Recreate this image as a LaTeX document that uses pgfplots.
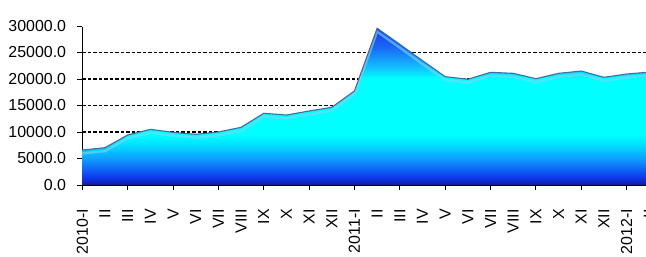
\documentclass[border=0pt]{standalone}
\usepackage{pgfplots}
\pgfplotsset{compat=1.18}
\usepackage{fontspec}
\setmainfont{Liberation Sans}
\definecolor{c0}{RGB}{22,28,120}
\definecolor{c1}{RGB}{15,38,200}
\definecolor{c2}{RGB}{15,65,240}
\definecolor{c3}{RGB}{15,160,255}
\definecolor{c4}{RGB}{0,225,255}
\definecolor{c5}{RGB}{0,255,255}
\definecolor{c6}{RGB}{20,185,255}
\definecolor{c7}{RGB}{25,105,245}
\definecolor{c8}{RGB}{25,55,235}
\definecolor{edgec}{RGB}{60,110,160}
\pgfdeclareverticalshading{areafill}{100bp}{color(0bp)=(c0); color(25bp)=(c0); color(26bp)=(c1); color(28bp)=(c2); color(33.5bp)=(c3); color(38bp)=(c4); color(41bp)=(c5); color(59bp)=(c5); color(63bp)=(c6); color(69bp)=(c7); color(75bp)=(c8); color(100bp)=(c8)}
\pgfplotstableread{
x y
0 6600
1 7040
2 9430
3 10500
4 9940
5 9560
6 10000
7 10880
8 13530
9 13200
10 13960
11 14660
12 17740
13 29570
14 26550
15 23460
16 20440
17 19950
18 21260
19 21070
20 20060
21 21070
22 21500
23 20320
24 20940
25 21300
}\datatable
\begin{document}
\begin{tikzpicture}
\begin{axis}[
  at={(0,0)}, anchor=south west,
  scale only axis,
  width=573.8bp, height=159bp,
  xmin=0, xmax=25.3, ymin=0, ymax=30000,
  axis lines=left,
  axis line style={-, black, line width=1bp},
  xtick={0,...,25},
  xticklabels={2010-I,II,III,IV,V,VI,VII,VIII,IX,X,XI,XII,2011-I,II,III,IV,V,VI,VII,VIII,IX,X,XI,XII,2012-I,II},
  xtick style={draw=none},
  extra x ticks={0,2,...,24},
  extra x tick labels={},
  extra x tick style={xtick style={draw=black, line width=1bp}},
  xticklabel style={rotate=90, anchor=east, inner sep=0pt, font=\fontsize{16}{16}\selectfont},
  xticklabel shift=19bp,
  ytick={0,5000,...,25000},
  extra y ticks={30000},
  extra y tick style={grid=major, major grid style={draw=gray!45, line width=0.5bp, dash pattern=on 3.5bp off 2bp, double=white, double distance=1.2bp}},
  ymajorgrids,
  major grid style={draw=black, line width=1.2bp, dash pattern=on 3.5bp off 2bp},
  ytick style={draw=black, line width=1bp},
  tick align=outside,
  major tick length=5bp,
  scaled y ticks=false,
  yticklabel style={inner sep=0pt, font=\fontsize{16}{16}\selectfont},
  yticklabel shift=11bp,
  /pgf/number format/.cd, fixed, fixed zerofill, precision=1, 1000 sep={}, assume math mode=true,
]
\addplot[draw=none, shading=areafill] table[x=x, y=y] {\datatable} \closedcycle;
\addplot[no marks, line width=2.4bp, color=white!50!cyan, opacity=0.6, yshift=-3.4bp] table[x=x, y=y] {\datatable};
\addplot[no marks, line width=1.1bp, color=edgec] table[x=x, y=y] {\datatable};
\end{axis}
\pgfresetboundingbox
\useasboundingbox (-82.3bp,-72bp) rectangle (563.7bp,185bp);
\end{tikzpicture}
\end{document}
